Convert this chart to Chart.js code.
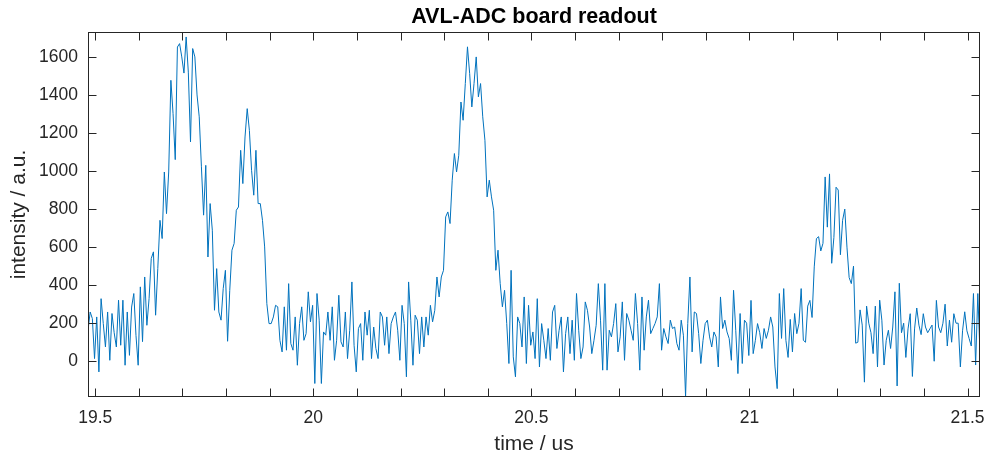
<!DOCTYPE html>
<html>
<head>
<meta charset="utf-8">
<script src="https://cdn.jsdelivr.net/npm/chart.js@4/dist/chart.umd.min.js"></script>
<style>
  html, body { margin: 0; padding: 0; background: #fff; }
  #wrap { width: 988px; height: 459px; }
</style>
</head>
<body>
<div id="wrap"><canvas id="c" width="988" height="459"></canvas></div>
<script>
// ADC sample clock (us)
const t0 = 19.4835;
const dt = 0.005;

// Board readout, one value per sample (a.u.)
const intensity = [
  163, 259, 224, 14, 233, -56, 329, 198, 75, 259,
  5, 251, 150, 75, 321, 84, 321, -21, 259, 31,
  285, 356, 136, -21, 391, 103, 443, 189, 329, 540,
  575, 242, 487, 741, 645, 995, 776, 995, 1477, 1302,
  1060, 1652, 1670, 1600, 1515, 1705, 1520, 1153, 1644, 1600,

  1400, 1285, 1022, 768, 1030, 548, 829, 689, 268, 487,
  259, 216, 382, 478, 105, 373, 584, 619, 794, 811,
  1109, 934, 1179, 1328, 1214, 1004, 873, 1109, 829, 829,
  741, 601, 303, 198, 198, 233, 294, 286, 110, 49,
  286, 58, 408, 93, 58, 233, -21, 198, 286, 110,

  145, 365, 207, 294, -117, 356, 216, -117, 154, 137,
  259, 110, 286, 5, 110, 347, 102, 75, 259, 14,
  163, 417, 84, -56, 172, 198, 5, 259, 137, 268,
  14, 180, 67, 14, 259, 233, 84, 233, 40, 198,
  233, 259, 163, 5, 294, 198, -82, 417, 216, -21,
  242,

  216, 40, 233, 75, 233, 137, 294, 207, 268, 443,
  338, 443, 478, 759, 785, 724, 952, 1092, 995, 1083,
  1363, 1267, 1460, 1653, 1512, 1337, 1460, 1600, 1390, 1460,
  1285, 1162, 864, 952, 864, 794, 478, 584, 408, 286,
  373, 198, -12, 478, 23, -82, 233, 198, 75, 338,
  -12,

  294, 84, 154, 14, 329, -30, 198, 110, 14, 172,
  5, 259, 294, 67, 163, 233, -56, 145, 233, 40,
  216, 5, 356, 163, 14, 75, 312, 268, 180, 40,
  110, 189, 408, 216, -47, 408, -47, 163, 128, 198,
  303, 49, 128, 312, 5, 251, 216, 163, 110, 356,

  198, -47, 338, 58, 233, 321, 145, 172, 198, 233,
  408, 58, 172, 128, 93, 216, 172, 180, 93, 58,
  216, 137, -185, 198, 443, 49, 259, 251, 145, -12,
  110, 198, 216, 128, 75, 154, 128, -30, 338, 172,
  216, 154, 119, 5, 373, 163, -65, 251, -12, 216,
  200,

  30, 320, 40, 110, 198, 150, 67, 172, 120, 163,
  233, 180, -30, -144, 356, 120, 382, 110, 20, 220,
  49, 251, 145, 200, 382, 110, 100, 290, 320, 230,
  496, 645, 655, 580, 620, 969, 705, 985, 515, 650,
  915, 900, 560, 741, 800, 600, 440, 408, 500, 95,

  100, 270, 190, -110, 290, 200, 150, 40, 290, -30,
  321, 216, -20, 110, 163, 67, 180, 365, -130, 410,
  150, 200, 20, 170, 250, -80, 170, 280, 190, 140,
  250, 180, 150, 170, 190, 0, 320, 180, 150, 200,
  300, 80, 216, 100, 250, 200, 200, -30, 160, 260,
  160, 120, 80, 356, -20, 356, 40
];

// Axis limits and tick layout
const xLimits = [19.4835, 21.5285];
const yLimits = [-188, 1731];
const xTickStep = 0.1;
const xLabelledTicks = [19.5, 20, 20.5, 21, 21.5];
const yTickStep = 200;

const points = intensity.map((v, i) => ({ x: t0 + i * dt, y: v }));

const FONT = "'Liberation Sans', Arial, Helvetica, sans-serif";
const AXIS_COLOR = '#262626';

// Box around the axes with inward ticks on all four sides
const axesBox = {
  id: 'axesBox',
  afterDatasetsDraw(chart) {
    const { ctx, chartArea: a, scales: { x, y } } = chart;
    const len = 8.5;
    ctx.save();
    ctx.strokeStyle = AXIS_COLOR;
    ctx.lineWidth = 1;
    ctx.beginPath();
    x.ticks.forEach(t => {
      const px = Math.round(x.getPixelForValue(t.value)) + 0.5;
      ctx.moveTo(px, a.bottom); ctx.lineTo(px, a.bottom - len);
      ctx.moveTo(px, a.top); ctx.lineTo(px, a.top + len);
    });
    y.ticks.forEach(t => {
      const py = Math.round(y.getPixelForValue(t.value)) + 0.5;
      ctx.moveTo(a.left, py); ctx.lineTo(a.left + len, py);
      ctx.moveTo(a.right, py); ctx.lineTo(a.right - len, py);
    });
    ctx.stroke();
    ctx.strokeRect(Math.round(a.left) + 0.5, Math.round(a.top) + 0.5,
                   Math.round(a.width) - 1, Math.round(a.height) - 1);
    ctx.restore();
  }
};

new Chart(document.getElementById('c'), {
  type: 'line',
  data: {
    datasets: [{
      data: points,
      borderColor: '#0072BD',
      borderWidth: 1,
      pointRadius: 0,
      tension: 0,
      fill: false
    }]
  },
  options: {
    responsive: false,
    animation: false,
    devicePixelRatio: 1,
    layout: { padding: { right: 8, left: 0, top: 0, bottom: 0 } },
    plugins: {
      legend: { display: false },
      tooltip: { enabled: false },
      title: {
        display: true,
        text: 'AVL-ADC board readout',
        fullSize: false,
        color: '#000',
        font: { family: FONT, size: 21.5, weight: 'bold', lineHeight: 1.2 },
        padding: { top: 4.5, bottom: 1.7 }
      }
    },
    scales: {
      x: {
        type: 'linear',
        min: xLimits[0],
        max: xLimits[1],
        grid: { display: false, drawTicks: false },
        border: { display: false },
        ticks: {
          stepSize: xTickStep,
          includeBounds: false,
          autoSkip: false,
          maxRotation: 0,
          padding: 11,
          color: AXIS_COLOR,
          font: { family: FONT, size: 17.5 },
          callback: (v) => {
            const hit = xLabelledTicks.find(l => Math.abs(l - v) < 1e-6);
            return hit === undefined ? '' : String(hit);
          }
        },
        title: {
          display: true,
          text: 'time / us',
          color: AXIS_COLOR,
          font: { family: FONT, size: 21 },
          padding: { top: 0, bottom: 2.5 }
        },
        afterFit(s) { s.height = 62; s.paddingLeft = 0; s.paddingRight = 0; }
      },
      y: {
        type: 'linear',
        min: yLimits[0],
        max: yLimits[1],
        grid: { display: false, drawTicks: false },
        border: { display: false },
        ticks: {
          stepSize: yTickStep,
          includeBounds: false,
          padding: 10,
          color: AXIS_COLOR,
          font: { family: FONT, size: 17.5 },
          callback: (v) => String(v)
        },
        title: {
          display: true,
          text: 'intensity / a.u.',
          color: AXIS_COLOR,
          font: { family: FONT, size: 21 },
          padding: { top: 6.5, bottom: 0 }
        },
        afterFit(s) { s.width = 88; s.paddingTop = 0; s.paddingBottom = 0; }
      }
    }
  },
  plugins: [axesBox]
});
</script>
</body>
</html>
